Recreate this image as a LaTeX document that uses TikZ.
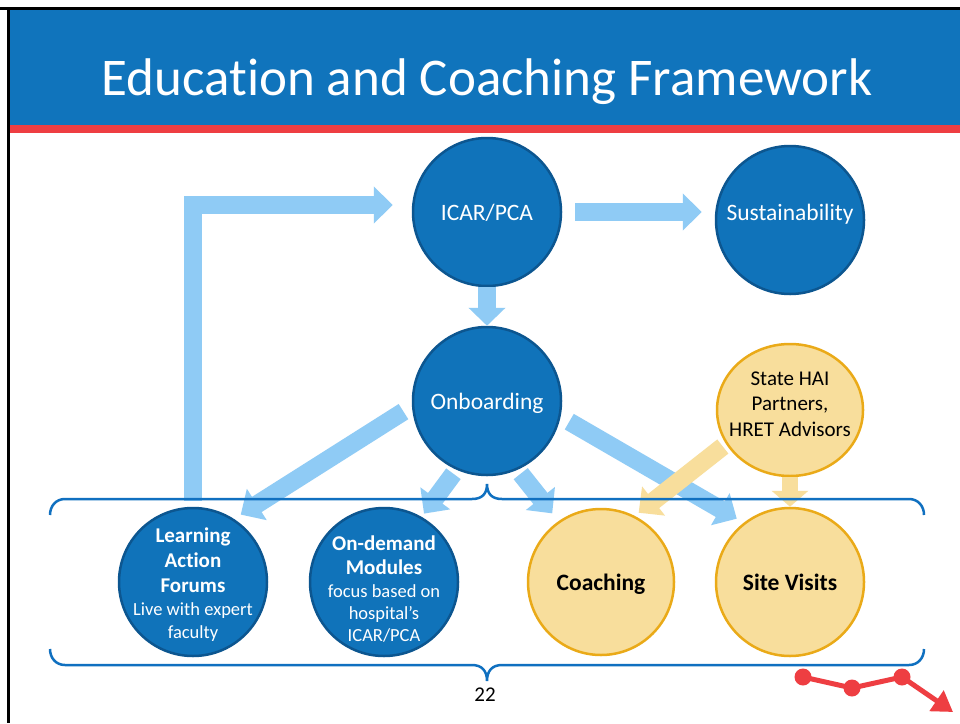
\documentclass[tikz,border=0pt]{standalone}
\usepackage{fontspec}
\setmainfont{Carlito}[Ligatures={TeX,NoCommon}]
\usetikzlibrary{arrows.meta,shapes.geometric,calc}

\definecolor{band}{RGB}{16,116,188}
\definecolor{redstripe}{RGB}{238,62,66}
\definecolor{circfill}{RGB}{16,115,186}
\definecolor{circline}{RGB}{12,86,144}
\definecolor{ylfill}{RGB}{248,222,156}
\definecolor{ylline}{RGB}{234,170,24}
\definecolor{ltblue}{RGB}{143,203,245}
\definecolor{bracec}{RGB}{16,112,192}
\newcommand\smtxt{\fontsize{18.5}{22}\selectfont}
\newcommand\zbox[2]{\raisebox{#1}[0pt][0pt]{\makebox[0pt]{#2}}}
\newcommand\lift[2]{\raisebox{#1}[\height][\depth]{#2}}

\begin{document}
\begin{tikzpicture}[x=1pt,y=-1pt,
  bcirc/.style={circle, draw=circline, fill=circfill, line width=2.5pt, minimum size=148pt, inner sep=0pt, text=white, font=\fontsize{23.5}{28}\selectfont},
  ycirc/.style={circle, draw=ylline, fill=ylfill, line width=2.5pt, minimum size=148pt, inner sep=0pt, text=black, font=\bfseries\fontsize{23.5}{28}\selectfont},
  barrow/.style={draw=ltblue, line width=18pt, line join=miter, -{Triangle[width=36pt,length=19pt]}},
  yarrow/.style={draw=ylfill, line width=18pt, -{Triangle[width=36pt,length=19pt]}},
  bracestyle/.style={draw=bracec, line width=2.5pt},
]
\useasboundingbox (0,0) rectangle (960,723);
\fill[white] (0,0) rectangle (960,723);
% frame and title band
\fill[black] (0,7) rectangle (960,9.5);
\fill[black] (7,7) rectangle (9.5,723);
\fill[band] (9.5,9.5) rectangle (960,125);
\fill[redstripe] (9.5,125) rectangle (960,133);
\node[anchor=base, text=white, font=\fontsize{53}{62}\selectfont] (title) at (487,95) {Education and Coaching Framework};

% circles
\node[bcirc] (icar) at (487,212) {\lift{-1pt}{ICAR/PCA}};
\node[bcirc] (sus) at (790,220) {\lift{6pt}{Sustainability}};
\node[bcirc] (onb) at (487,401) {\lift{-2pt}{Onboarding}};
\node[ycirc, ellipse, minimum width=146pt, minimum height=132pt, font=\fontsize{21}{25.5}\selectfont] (hai) at (790,410)
  {\zbox{-1pt}{\begin{tabular}{@{}c@{}}State HAI\\Partners,\\HRET Advisors\end{tabular}}};
\node[bcirc, font=\fontsize{21}{25.3}\selectfont] (laf) at (193,582)
  {\zbox{-8.5pt}{\begin{tabular}{@{}c@{}}\textbf{Learning}\\\textbf{Action}\\\textbf{Forums}\\[-2.5pt]\smtxt Live with expert\\[-2.5pt]\smtxt faculty\end{tabular}}};
\node[bcirc, font=\fontsize{21}{25}\selectfont] (odm) at (384,582)
  {\zbox{-14pt}{\begin{tabular}{@{}c@{}}\textbf{On-demand}\\[-1pt]\textbf{Modules}\\[-2.5pt]\smtxt focus based on\\[-3pt]\smtxt hospital’s\\[-3pt]\smtxt ICAR/PCA\end{tabular}}};
\node[ycirc, minimum size=146pt] (coa) at (601,582) {\lift{-2pt}{Coaching}};
\node[ycirc] (sv) at (790,582) {Site Visits};

% blue arrows
\draw[barrow, shorten <=6pt, shorten >=19pt] (laf.north) |- ([yshift=7pt]icar.west);
\draw[barrow, shorten <=13pt, shorten >=13pt] (icar.east) -- (icar.east -| sus.west);
\draw[barrow, -{Triangle[width=36pt,length=18pt]}] (icar.south) -- (onb.north);
\draw[barrow, shorten <=10pt, shorten >=8pt] (onb.184) -- (laf.57);
\draw[barrow, shorten <=5pt, shorten >=4pt] (onb.246) -- (odm.60);
\draw[barrow, shorten <=5pt, shorten >=10pt] (onb.294) -- (coa.125);
\draw[barrow, shorten <=10pt, shorten >=8pt] (onb.348) -- (sv.128);
% yellow arrows
\draw[yarrow, shorten <=4pt, shorten >=5pt] (hai.208) -- (coa.63);
\draw[yarrow, line width=16pt, -{Triangle[width=36pt,length=16pt]}] (hai.south) -- (sv.north);

% braces
\draw[bracestyle] (50,515) .. controls (50,506) and (56,499) .. (65,499) -- (472,499)
  .. controls (482,499) and (487,494) .. (487,484)
  .. controls (487,494) and (492,499) .. (502,499) -- (909,499)
  .. controls (918,499) and (924,506) .. (924,515);
\draw[bracestyle] (50,649) .. controls (50,658) and (56,665) .. (65,665) -- (472,665)
  .. controls (482,665) and (487,671) .. (487,681)
  .. controls (487,671) and (492,665) .. (502,665) -- (909,665)
  .. controls (918,665) and (924,658) .. (924,649);

\node[font=\fontsize{21}{24}\selectfont] (pg) at (485,695) {22};

% red decoration
\draw[redstripe, line width=5pt, line join=round, -{Triangle[width=24pt,length=20pt]}] (803,677) -- (852,688) -- (902,677) -- (953,712);
\fill[redstripe] (803,677) circle[radius=8.5pt] (852,688) circle[radius=8.5pt] (902,677) circle[radius=8.5pt];
\end{tikzpicture}
\end{document}
